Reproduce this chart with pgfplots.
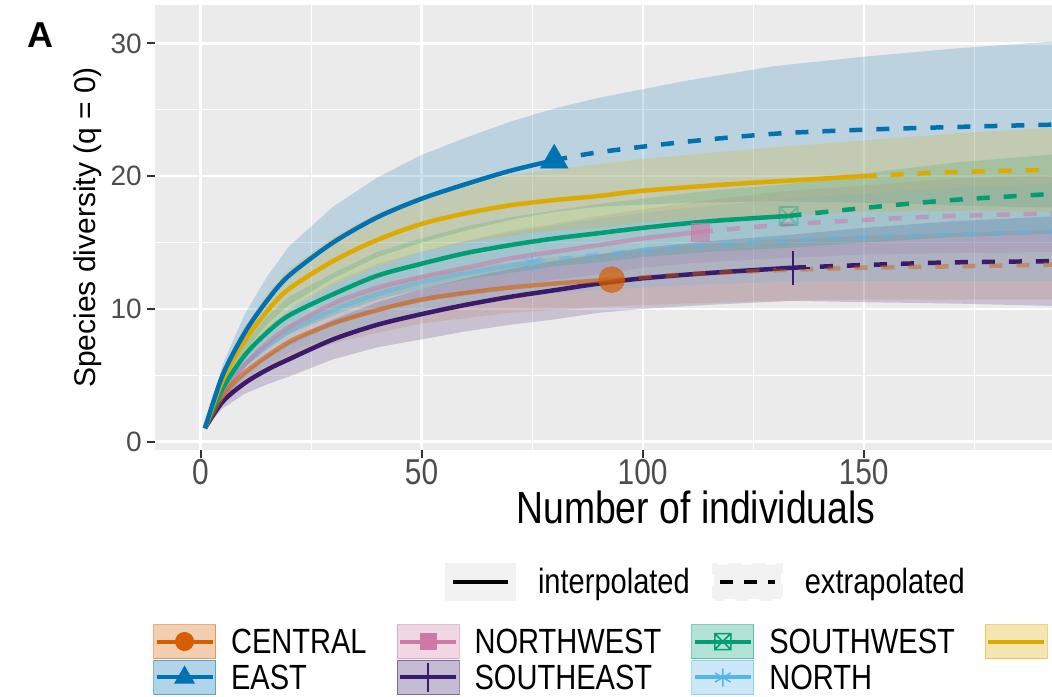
\documentclass[border=0pt]{standalone}
\usepackage{fontspec}
\setmainfont{Liberation Sans}[FakeStretch=0.83]
\newfontfamily\ylabfont{Liberation Sans}
\newfontfamily\panelfont{Liberation Sans Bold}
\usepackage{pgfplots}
\pgfplotsset{compat=1.18}
\usepackage{pgfplotstable}

\definecolor{cCen}{HTML}{D55E00}
\definecolor{cEast}{HTML}{0072B2}
\definecolor{cNW}{HTML}{CC79A7}
\definecolor{cSE}{HTML}{3B1A6B}
\definecolor{cSW}{HTML}{009E73}
\definecolor{cNorth}{HTML}{56B4E9}
\definecolor{cGold}{HTML}{DDAA00}
\definecolor{panel}{HTML}{EBEBEB}
\definecolor{tickc}{HTML}{333333}
\definecolor{ticklab}{HTML}{4D4D4D}
\definecolor{keybg}{HTML}{F2F2F2}

% square with a cross (ggplot shape 7)
\pgfdeclareplotmark{boxx}{%
  \pgfpathrectangle{\pgfpoint{-\pgfplotmarksize}{-\pgfplotmarksize}}{\pgfpoint{2\pgfplotmarksize}{2\pgfplotmarksize}}%
  \pgfpathmoveto{\pgfpoint{-\pgfplotmarksize}{-\pgfplotmarksize}}%
  \pgfpathlineto{\pgfpoint{\pgfplotmarksize}{\pgfplotmarksize}}%
  \pgfpathmoveto{\pgfpoint{-\pgfplotmarksize}{\pgfplotmarksize}}%
  \pgfpathlineto{\pgfpoint{\pgfplotmarksize}{-\pgfplotmarksize}}%
  \pgfusepathqstroke}

% n and estimated richness
\pgfplotstableread{
n qD
1 1
5 3.4
10 5.2
20 7.5
30 8.9
40 9.9
50 10.7
60 11.2
70 11.6
80 11.9
93 12.2
110 12.6
130 12.9
150 13.1
170 13.2
195 13.35
}\central

\pgfplotstableread{
n qD
1 1
5 5.0
10 8.2
15 10.6
20 12.5
30 15.0
40 16.9
50 18.3
60 19.4
70 20.4
80 21.2
90 21.8
110 22.6
130 23.2
150 23.5
170 23.7
195 23.9
}\east

\pgfplotstableread{
n qD
1 1
5 3.6
10 5.8
15 7.4
20 8.6
30 10.4
40 11.6
50 12.4
60 13.1
70 13.8
80 14.3
90 14.8
100 15.3
113 15.8
130 16.3
150 16.7
170 17.0
195 17.2
}\northwest

\pgfplotstableread{
n qD
1 1
5 3.0
10 4.4
15 5.4
20 6.2
30 7.7
40 8.8
50 9.6
60 10.3
70 10.9
80 11.4
90 11.9
100 12.3
115 12.7
134 13.1
150 13.3
170 13.5
195 13.6
}\southeast

\pgfplotstableread{
n qD
1 1
5 4.0
10 6.5
15 8.2
20 9.5
30 11.1
40 12.5
50 13.4
60 14.2
70 14.8
80 15.3
90 15.7
100 16.1
115 16.6
133 17.0
150 17.6
170 18.2
195 18.7
}\southwest

\pgfplotstableread{
n qD
1 1
5 3.7
10 5.8
20 8.3
30 9.9
40 11.1
50 12.0
60 12.7
75 13.5
90 14.1
110 14.7
130 15.1
150 15.4
170 15.6
195 15.8
}\north

\pgfplotstableread{
n qD
1 1
5 4.6
10 7.6
15 9.8
20 11.5
30 13.6
40 15.2
50 16.4
60 17.2
70 17.8
80 18.2
90 18.5
100 18.9
120 19.4
135 19.7
150 20.0
170 20.3
195 20.5
}\gold

\pgfplotsset{
  ribbon/.style={fill=#1, fill opacity=0.2, draw=none, forget plot},
  interp/.style={#1, line width=4.5pt, smooth, forget plot},
  extrap/.style={#1, line width=4.5pt, smooth, forget plot, dash pattern=on 13pt off 14pt},
}

\begin{document}
\begin{tikzpicture}
\path[use as bounding box] (0pt,0pt) rectangle (1052pt,696pt);
\node[font=\panelfont\fontsize{36}{40}\selectfont] at (40pt,661pt) {A};

\begin{axis}[
  at={(155pt,246pt)}, anchor=south west,
  scale only axis, width=897pt, height=445pt,
  xmin=-10.3, xmax=192.6, ymin=-0.64, ymax=32.9,
  axis background/.style={fill=panel},
  axis line style={draw=none},
  xtick={0,50,100,150,200}, ytick={0,10,20,30},
  minor xtick={25,75,125,175}, minor ytick={5,15,25},
  grid=both,
  major grid style={white, line width=2.2pt},
  minor grid style={white, line width=1.1pt},
  tick pos=left, tick align=outside,
  major tick length=8pt, minor tick length=0pt,
  major tick style={tickc, line width=2pt},
  /pgf/number format/assume math mode=true,
  xticklabel style={font=\fontsize{36}{40}\selectfont, text=ticklab, inner sep=1pt},
  yticklabel style={font=\ylabfont\fontsize{28}{34}\selectfont, text=ticklab, inner sep=2pt, xshift=-3pt},
  xlabel={Number of individuals},
  ylabel={\ylabfont Species diversity (q = 0)},
  xlabel style={at={(axis description cs:0.603,-0.130)}, anchor=center, font=\fontsize{45}{50}\selectfont},
  ylabel style={at={(axis description cs:-0.075,0.5)}, anchor=center, font=\fontsize{30}{36}\selectfont},
  legend columns=4,
  legend cell align=left,
  legend style={at={(axis description cs:-0.0022,-0.391)}, anchor=north west,
    draw=none, fill=none, inner sep=0pt, outer sep=0pt, row sep=1pt,
    font=\fontsize{35}{40}\selectfont,
    nodes={inner sep=0pt, text height=24pt, text depth=0pt},
    /tikz/every odd column/.append style={column sep=15pt},
    /tikz/every even column/.append style={column sep=30pt}},
  legend image code/.code={
    \filldraw[#1, line width=1pt, fill opacity=0.3, draw opacity=0.5, solid] (0pt,-17pt) rectangle (62pt,17pt);
    \draw[#1, mark repeat=2, mark phase=2] plot coordinates {(3pt,0pt) (31pt,0pt) (59pt,0pt)};
  },
]

% confidence ribbons: upper bound forwards, lower bound backwards
\addplot[ribbon=cCen, fill opacity=0.13] coordinates {(1,1)(5,3.9)(10,6.0)(20,8.8)(30,10.4)(40,11.6)(50,12.5)(60,13.1)(70,13.5)(80,13.9)(93,14.2)(110,14.8)(130,15.2)(150,15.5)(170,15.7)(195,16.0)
  (195,10.7)(170,10.7)(150,10.7)(130,10.6)(110,10.4)(93,10.2)(80,9.9)(70,9.7)(60,9.3)(50,8.9)(40,8.2)(30,7.4)(20,6.2)(10,4.4)(5,2.9)};
\addplot[ribbon=cEast] coordinates {(1,1)(5,5.8)(10,9.6)(15,12.4)(20,14.7)(30,17.7)(40,19.9)(50,21.6)(60,22.9)(70,24.1)(80,25.1)(90,25.9)(110,27.2)(130,28.3)(150,29.0)(170,29.6)(195,30.2)
  (195,17.6)(170,17.8)(150,18.0)(130,18.1)(110,18.0)(90,17.7)(80,17.3)(70,16.7)(60,15.9)(50,15.0)(40,13.9)(30,12.3)(20,10.3)(15,8.8)(10,6.8)(5,4.2)};
\addplot[ribbon=cNW] coordinates {(1,1)(5,4.2)(10,6.7)(15,8.6)(20,10.0)(30,12.0)(40,13.4)(50,14.3)(60,15.1)(70,15.9)(80,16.4)(90,17.0)(100,17.5)(113,18.1)(130,18.8)(150,19.3)(170,19.8)(195,20.1)
  (195,14.3)(170,14.2)(150,14.1)(130,13.8)(113,13.5)(100,13.1)(90,12.6)(80,12.2)(70,11.7)(60,11.1)(50,10.5)(40,9.8)(30,8.8)(20,7.2)(15,6.2)(10,4.9)(5,3.0)};
\addplot[ribbon=cSE] coordinates {(1,1)(5,3.5)(10,5.2)(15,6.5)(20,7.5)(30,9.2)(40,10.5)(50,11.5)(60,12.3)(70,13.0)(80,13.6)(90,14.1)(100,14.6)(115,15.1)(134,15.6)(150,16.1)(170,16.6)(195,17.0)
  (195,10.2)(170,10.4)(150,10.5)(134,10.6)(115,10.3)(100,10.0)(90,9.7)(80,9.2)(70,8.8)(60,8.3)(50,7.7)(40,7.1)(30,6.2)(20,4.9)(15,4.3)(10,3.6)(5,2.5)};
\addplot[ribbon=cSW] coordinates {(1,1)(5,4.6)(10,7.4)(15,9.4)(20,10.9)(30,12.7)(40,14.3)(50,15.3)(60,16.2)(70,16.9)(80,17.4)(90,17.9)(100,18.3)(115,18.9)(133,19.4)(150,20.2)(170,21.0)(195,21.7)
  (195,15.7)(170,15.4)(150,15.0)(133,14.6)(115,14.3)(100,13.9)(90,13.5)(80,13.2)(70,12.7)(60,12.2)(50,11.5)(40,10.7)(30,9.5)(20,8.1)(15,7.0)(10,5.6)(5,3.4)};
\addplot[ribbon=cNorth] coordinates {(1,1)(5,4.3)(10,6.8)(20,9.9)(30,11.8)(40,13.2)(50,14.3)(60,15.1)(75,16.0)(90,16.8)(110,17.6)(130,18.2)(150,18.7)(170,19.1)(195,19.5)
  (195,12.1)(170,12.1)(150,12.1)(130,12.0)(110,11.8)(90,11.4)(75,11.0)(60,10.3)(50,9.7)(40,9.0)(30,8.0)(20,6.7)(10,4.8)(5,3.1)};
\addplot[ribbon=cGold] coordinates {(1,1)(5,5.2)(10,8.6)(15,11.1)(20,13.0)(30,15.4)(40,17.2)(50,18.5)(60,19.4)(70,20.1)(80,20.5)(90,20.9)(100,21.3)(120,21.9)(135,22.3)(150,22.7)(170,23.2)(195,23.7)
  (195,17.3)(170,17.4)(150,17.3)(135,17.1)(120,16.9)(100,16.5)(90,16.1)(80,15.9)(70,15.5)(60,15.0)(50,14.3)(40,13.2)(30,11.8)(20,10.0)(15,8.5)(10,6.6)(5,4.0)};

% curves: interpolated up to the sample size, extrapolated beyond
\addplot[interp={cNorth, opacity=0.45}, restrict x to domain=0:75] table[x=n,y=qD]{\north};
\addplot[extrap={cNorth, opacity=0.4}, restrict x to domain=75:250] table[x=n,y=qD]{\north};
\addplot[interp={cNW, opacity=0.55}, restrict x to domain=0:113] table[x=n,y=qD]{\northwest};
\addplot[extrap={cNW, opacity=0.55}, restrict x to domain=113:250] table[x=n,y=qD]{\northwest};
\addplot[interp=cSE, restrict x to domain=0:134] table[x=n,y=qD]{\southeast};
\addplot[extrap=cSE, restrict x to domain=134:250] table[x=n,y=qD]{\southeast};
\addplot[interp={cCen, opacity=0.6}, restrict x to domain=0:93] table[x=n,y=qD]{\central};
\addplot[extrap={cCen, opacity=0.45}, restrict x to domain=93:250] table[x=n,y=qD]{\central};
\addplot[interp=cSW, restrict x to domain=0:133] table[x=n,y=qD]{\southwest};
\addplot[extrap=cSW, restrict x to domain=133:250] table[x=n,y=qD]{\southwest};
\addplot[interp=cGold, restrict x to domain=0:150] table[x=n,y=qD]{\gold};
\addplot[extrap=cGold, restrict x to domain=150:250] table[x=n,y=qD]{\gold};
\addplot[interp=cEast, restrict x to domain=0:80] table[x=n,y=qD]{\east};
\addplot[extrap=cEast, restrict x to domain=80:250] table[x=n,y=qD]{\east};

% observed samples
\addplot[only marks, forget plot, mark=asterisk, mark size=10pt, cNorth, opacity=0.5, mark options={line width=2pt}] coordinates {(75,13.5)};
\addplot[only marks, forget plot, mark=square*, mark size=9pt, cNW, opacity=0.6] coordinates {(113,15.8)};
\addplot[only marks, forget plot, mark=boxx, mark size=9pt, cSW, opacity=0.35, mark options={line width=2pt}] coordinates {(133,17.0)};
\addplot[only marks, forget plot, mark=+, mark size=17pt, cSE, mark options={line width=2pt}] coordinates {(134,13.1)};
\addplot[only marks, forget plot, mark=*, mark size=13pt, cCen, opacity=0.7] coordinates {(93,12.2)};
\addplot[only marks, forget plot, mark=triangle*, mark size=16pt, cEast] coordinates {(80,21.2)};

% legend, row by row
\addlegendimage{cCen, fill=cCen, line width=4pt, mark=*, mark size=9pt, mark options={solid, line width=1pt}}
\addlegendentry{CENTRAL}
\addlegendimage{cNW, fill=cNW, line width=4pt, mark=square*, mark size=8pt, mark options={solid, line width=1pt}}
\addlegendentry{NORTHWEST}
\addlegendimage{cSW, fill=cSW, line width=4pt, mark=boxx, mark size=8pt, mark options={solid, line width=1.5pt}}
\addlegendentry{SOUTHWEST}
\addlegendimage{cGold, fill=cGold, line width=4pt}
\addlegendentry{}
\addlegendimage{cEast, fill=cEast, line width=4pt, mark=triangle*, mark size=11pt, mark options={solid, line width=1pt}}
\addlegendentry{EAST}
\addlegendimage{cSE, fill=cSE, line width=4pt, mark=+, mark size=14pt, mark options={solid, line width=1.5pt}}
\addlegendentry{SOUTHEAST}
\addlegendimage{cNorth, fill=cNorth, line width=4pt, mark=asterisk, mark size=9pt, mark options={solid, line width=1.5pt}}
\addlegendentry{NORTH}
\end{axis}

% legend for the line types
\begin{axis}[
  at={(155pt,246pt)}, anchor=south west,
  scale only axis, width=897pt, height=445pt,
  xmin=0, xmax=1, ymin=0, ymax=1, hide axis,
  legend columns=2,
  legend cell align=left,
  legend style={at={(axis description cs:0.3233,-0.2966)}, anchor=west,
    draw=none, fill=none, inner sep=0pt, outer sep=0pt,
    font=\fontsize{35}{40}\selectfont,
    nodes={inner sep=0pt, text height=24pt, text depth=0pt},
    /tikz/every odd column/.append style={column sep=22pt},
    /tikz/every even column/.append style={column sep=22pt}},
  legend image code/.code={
    \fill[keybg] (0pt,-17pt) rectangle (67pt,17pt);
    \draw[#1] (6pt,0pt) -- (61pt,0pt);
  },
]
\addplot[draw=none, forget plot] coordinates {(0,0) (1,1)};
\addlegendimage{black, line width=4pt}
\addlegendentry{interpolated}
\addlegendimage{black, line width=4pt, dash pattern=on 13pt off 11pt}
\addlegendentry{extrapolated}
\end{axis}
\end{tikzpicture}
\end{document}
